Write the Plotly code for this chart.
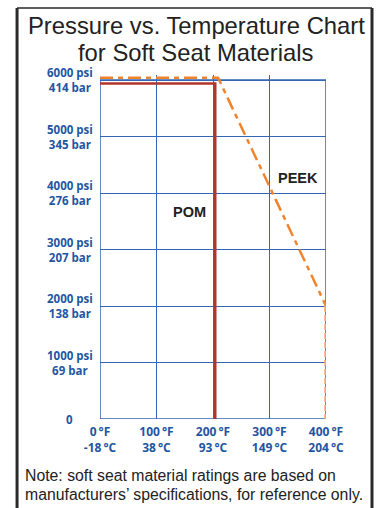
import plotly.graph_objects as go

# temperature ticks (°F) and their labels
temp_ticks = [0, 100, 200, 300, 400]
temp_f = ["0\u2009°F", "100\u2009°F", "200\u2009°F", "300\u2009°F", "400\u2009°F"]
temp_c = ["-18\u2009°C", "38\u2009°C", "93\u2009°C", "149\u2009°C", "204\u2009°C"]

# pressure ticks
psi_ticks = [0, 1000, 2000, 3000, 4000, 5000, 6000]
psi_labels = ["0", "1000 psi", "2000 psi", "3000 psi", "4000 psi", "5000 psi", "6000 psi"]
bar_labels = ["", "69 bar", "138 bar", "207 bar", "276 bar", "345 bar", "414 bar"]

# material rating curves
pom_temp = [0, 204, 204]
pom_psi = [5940, 5940, 0]
peek_temp = [0, 209, 400]
peek_psi = [6040, 6040, 2000]
peek_limit_temp = [399, 399]
peek_limit_psi = [2000, 0]

BLUE = "#3366b4"
LABEL_BLUE = "#1f56a3"
TEXT = "#222222"

fig = go.Figure()

# chart frame (0-400 °F, 0-6000 psi)
fig.add_shape(type="rect", x0=0, x1=400, y0=0, y1=6000, layer="below",
              line=dict(color=BLUE, width=1.5))

fig.add_trace(go.Scatter(x=pom_temp, y=pom_psi, mode="lines",
                         line=dict(color="#b0352a", width=2.5), hoverinfo="skip"))
fig.add_trace(go.Scatter(x=peek_temp, y=peek_psi, mode="lines",
                         line=dict(color="#f0842e", width=2.5, dash="13px,5px,5px,5px"),
                         hoverinfo="skip"))
fig.add_trace(go.Scatter(x=peek_limit_temp, y=peek_limit_psi, mode="lines",
                         line=dict(color="#f2a46a", width=2.2, dash="6px,3px"),
                         hoverinfo="skip"))

# tick labels for pressure (centred two-line blocks)
for v, p, b in zip(psi_ticks, psi_labels, bar_labels):
    txt = p if not b else f"{p}<br>{b}"
    fig.add_annotation(x=-0.133, xref="paper", y=v, yref="y", text=txt,
                       showarrow=False, xanchor="center", yanchor="middle", align="center",
                       font=dict(family="Open Sans", size=11.5, color=LABEL_BLUE, weight="bold"))

# material labels
fig.add_annotation(x=159, y=3660, text="<b>POM</b>", showarrow=False,
                   font=dict(family="Liberation Sans", size=14.5, color=TEXT))
fig.add_annotation(x=351, y=4265, text="<b>PEEK</b>", showarrow=False,
                   font=dict(family="Liberation Sans", size=14.5, color=TEXT))

# title
title_font = dict(family="Liberation Sans", size=23.8, color=TEXT)
fig.add_annotation(x=0.425, xref="paper", y=1.1453, yref="paper",
                   text="Pressure vs. Temperature Chart", showarrow=False,
                   xanchor="center", yanchor="middle", font=title_font)
fig.add_annotation(x=0.425, xref="paper", y=1.064, yref="paper",
                   text="for Soft Seat Materials", showarrow=False,
                   xanchor="center", yanchor="middle", font=title_font)

# note
note_font = dict(family="Liberation Sans", size=15.8, color=TEXT)
fig.add_annotation(x=-0.3407, xref="paper", y=-0.1628, yref="paper",
                   text="Note: soft seat material ratings are based on",
                   showarrow=False, xanchor="left", yanchor="middle", font=note_font)
fig.add_annotation(x=-0.3407, xref="paper", y=-0.2209, yref="paper",
                   text="manufacturers\u2019 specifications, for reference only.",
                   showarrow=False, xanchor="left", yanchor="middle", font=note_font)

# outer frame
frame = dict(color="#2a2a2a")
fig.add_shape(type="line", xref="paper", yref="paper", x0=-0.367, x1=-0.367, y0=1.1948, y1=-0.3,
              line=dict(width=3, **frame))
fig.add_shape(type="line", xref="paper", yref="paper", x0=1.2035, x1=1.2035, y0=1.1948, y1=-0.3,
              line=dict(width=3, **frame))
fig.add_shape(type="line", xref="paper", yref="paper", x0=-0.367, x1=1.2035, y0=1.1948, y1=1.1948,
              line=dict(width=1.5, **frame))

fig.update_xaxes(range=[0, 400], tickvals=temp_ticks,
                 ticktext=[f"{f}<br>{c}" for f, c in zip(temp_f, temp_c)],
                 showgrid=True, gridcolor=BLUE, gridwidth=1.2,
                 showline=False, zeroline=False, ticks="", ticklabelstandoff=4,
                 layer="below traces",
                 tickfont=dict(family="Open Sans", size=12, color=LABEL_BLUE, weight="bold"),
                 fixedrange=True)
fig.update_yaxes(range=[0, 6090], tickvals=psi_ticks, showticklabels=False,
                 showgrid=True, gridcolor=BLUE, gridwidth=1.2,
                 showline=False, zeroline=False, ticks="", layer="below traces",
                 fixedrange=True)

fig.update_layout(width=383, height=508,
                  margin=dict(l=100, r=57, t=75, b=89),
                  paper_bgcolor="white", plot_bgcolor="white",
                  showlegend=False)

fig.write_html("out.html", config={"displayModeBar": False},
               post_script="document.body.style.margin='0';")
